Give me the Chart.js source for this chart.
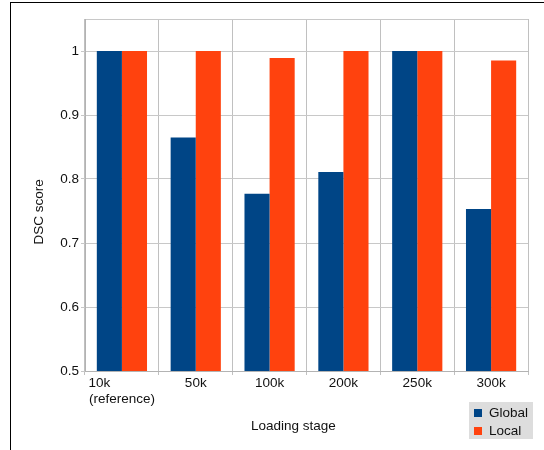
<!DOCTYPE html>
<html>
<head>
<meta charset="utf-8">
<script src="https://cdn.jsdelivr.net/npm/chart.js@4"></script>
<style>
  html, body { margin: 0; padding: 0; background: #fff; }
  #wrap { position: relative; width: 544px; height: 450px; }
  #frame { position: absolute; left: 10px; top: 2px; right: 0; bottom: 0;
           border-left: 1px solid #000; border-top: 1px solid #000; pointer-events: none; }
  canvas { position: absolute; left: 0; top: 0; }
</style>
</head>
<body>
<div id="wrap">
  <canvas id="c" width="544" height="450"></canvas>
  <div id="frame"></div>
</div>
<script>
// ---- data ----
const categories = [['10k            ', '(reference)'], '50k', '100k', '200k', '250k', '300k'];
const seriesNames = ['Global', 'Local'];
const globalValues = [1.0, 0.865, 0.777, 0.811, 1.0, 0.753];
const localValues  = [1.0, 1.0, 0.989, 1.0, 1.0, 0.985];
const yTicks = [0.5, 0.6, 0.7, 0.8, 0.9, 1];
const yMin = 0.5, yMax = 1.05;
const colors = ['#004586', '#ff420e'];

const FONT = "'Liberation Sans', Arial, sans-serif";
const FS = 13.5;

const legendBox = {
  id: 'legendBox',
  afterDraw(chart) {
    const ctx = chart.ctx;
    ctx.save();
    ctx.fillStyle = '#dddddd';
    ctx.fillRect(469, 402, 64, 37);
    ctx.font = FS + 'px ' + FONT;
    ctx.textBaseline = 'middle';
    ctx.textAlign = 'left';
    chart.data.datasets.forEach((ds, i) => {
      const cy = 413 + i * 18;
      ctx.fillStyle = ds.backgroundColor;
      ctx.fillRect(474, cy - 4, 8, 8);
      ctx.fillStyle = '#111';
      ctx.fillText(ds.label, 489, cy + 0.5);
    });
    ctx.restore();
  }
};

new Chart(document.getElementById('c'), {
  type: 'bar',
  data: {
    labels: categories,
    datasets: [
      { label: seriesNames[0], data: globalValues, backgroundColor: colors[0] },
      { label: seriesNames[1], data: localValues, backgroundColor: colors[1] }
    ]
  },
  options: {
    responsive: false,
    animation: false,
    devicePixelRatio: 1,
    layout: { padding: { left: 0, top: 19, right: 16, bottom: 0 } },
    plugins: { legend: { display: false }, tooltip: { enabled: false } },
    datasets: { bar: { categoryPercentage: 0.68, barPercentage: 1.0 } },
    scales: {
      x: {
        grid: { color: '#c0c0c0', lineWidth: 1, tickLength: 4, offset: true, drawOnChartArea: true },
        border: { color: '#b3b3b3', width: 1 },
        ticks: { color: '#111', font: { family: FONT, size: FS }, padding: 0, maxRotation: 0, autoSkip: false },
        title: { display: true, text: 'Loading stage       ', color: '#111',
                 font: { family: FONT, size: FS }, padding: { top: 0, bottom: 16 } },
        afterFit(scale) { scale.height = 79; }
      },
      y: {
        min: yMin, max: yMax,
        afterBuildTicks(scale) {
          scale.ticks = yTicks.map(v => ({ value: v })).concat([{ value: yMax }]);
        },
        grid: {
          color: '#c8c8c8', lineWidth: 1, tickLength: 4,
          tickColor: ctx => (ctx.tick && ctx.tick.value === yMax) ? 'rgba(0,0,0,0)' : '#c8c8c8'
        },
        border: { color: '#b3b3b3', width: 1 },
        ticks: { color: '#111', font: { family: FONT, size: FS }, padding: 2,
                 callback: v => (v === yMax ? '' : String(v)) },
        title: { display: true, text: 'DSC score         ', color: '#111',
                 font: { family: FONT, size: FS }, padding: { top: 31, bottom: 0 } },
        afterFit(scale) { scale.width = 85; }
      }
    }
  },
  plugins: [legendBox]
});
</script>
</body>
</html>
